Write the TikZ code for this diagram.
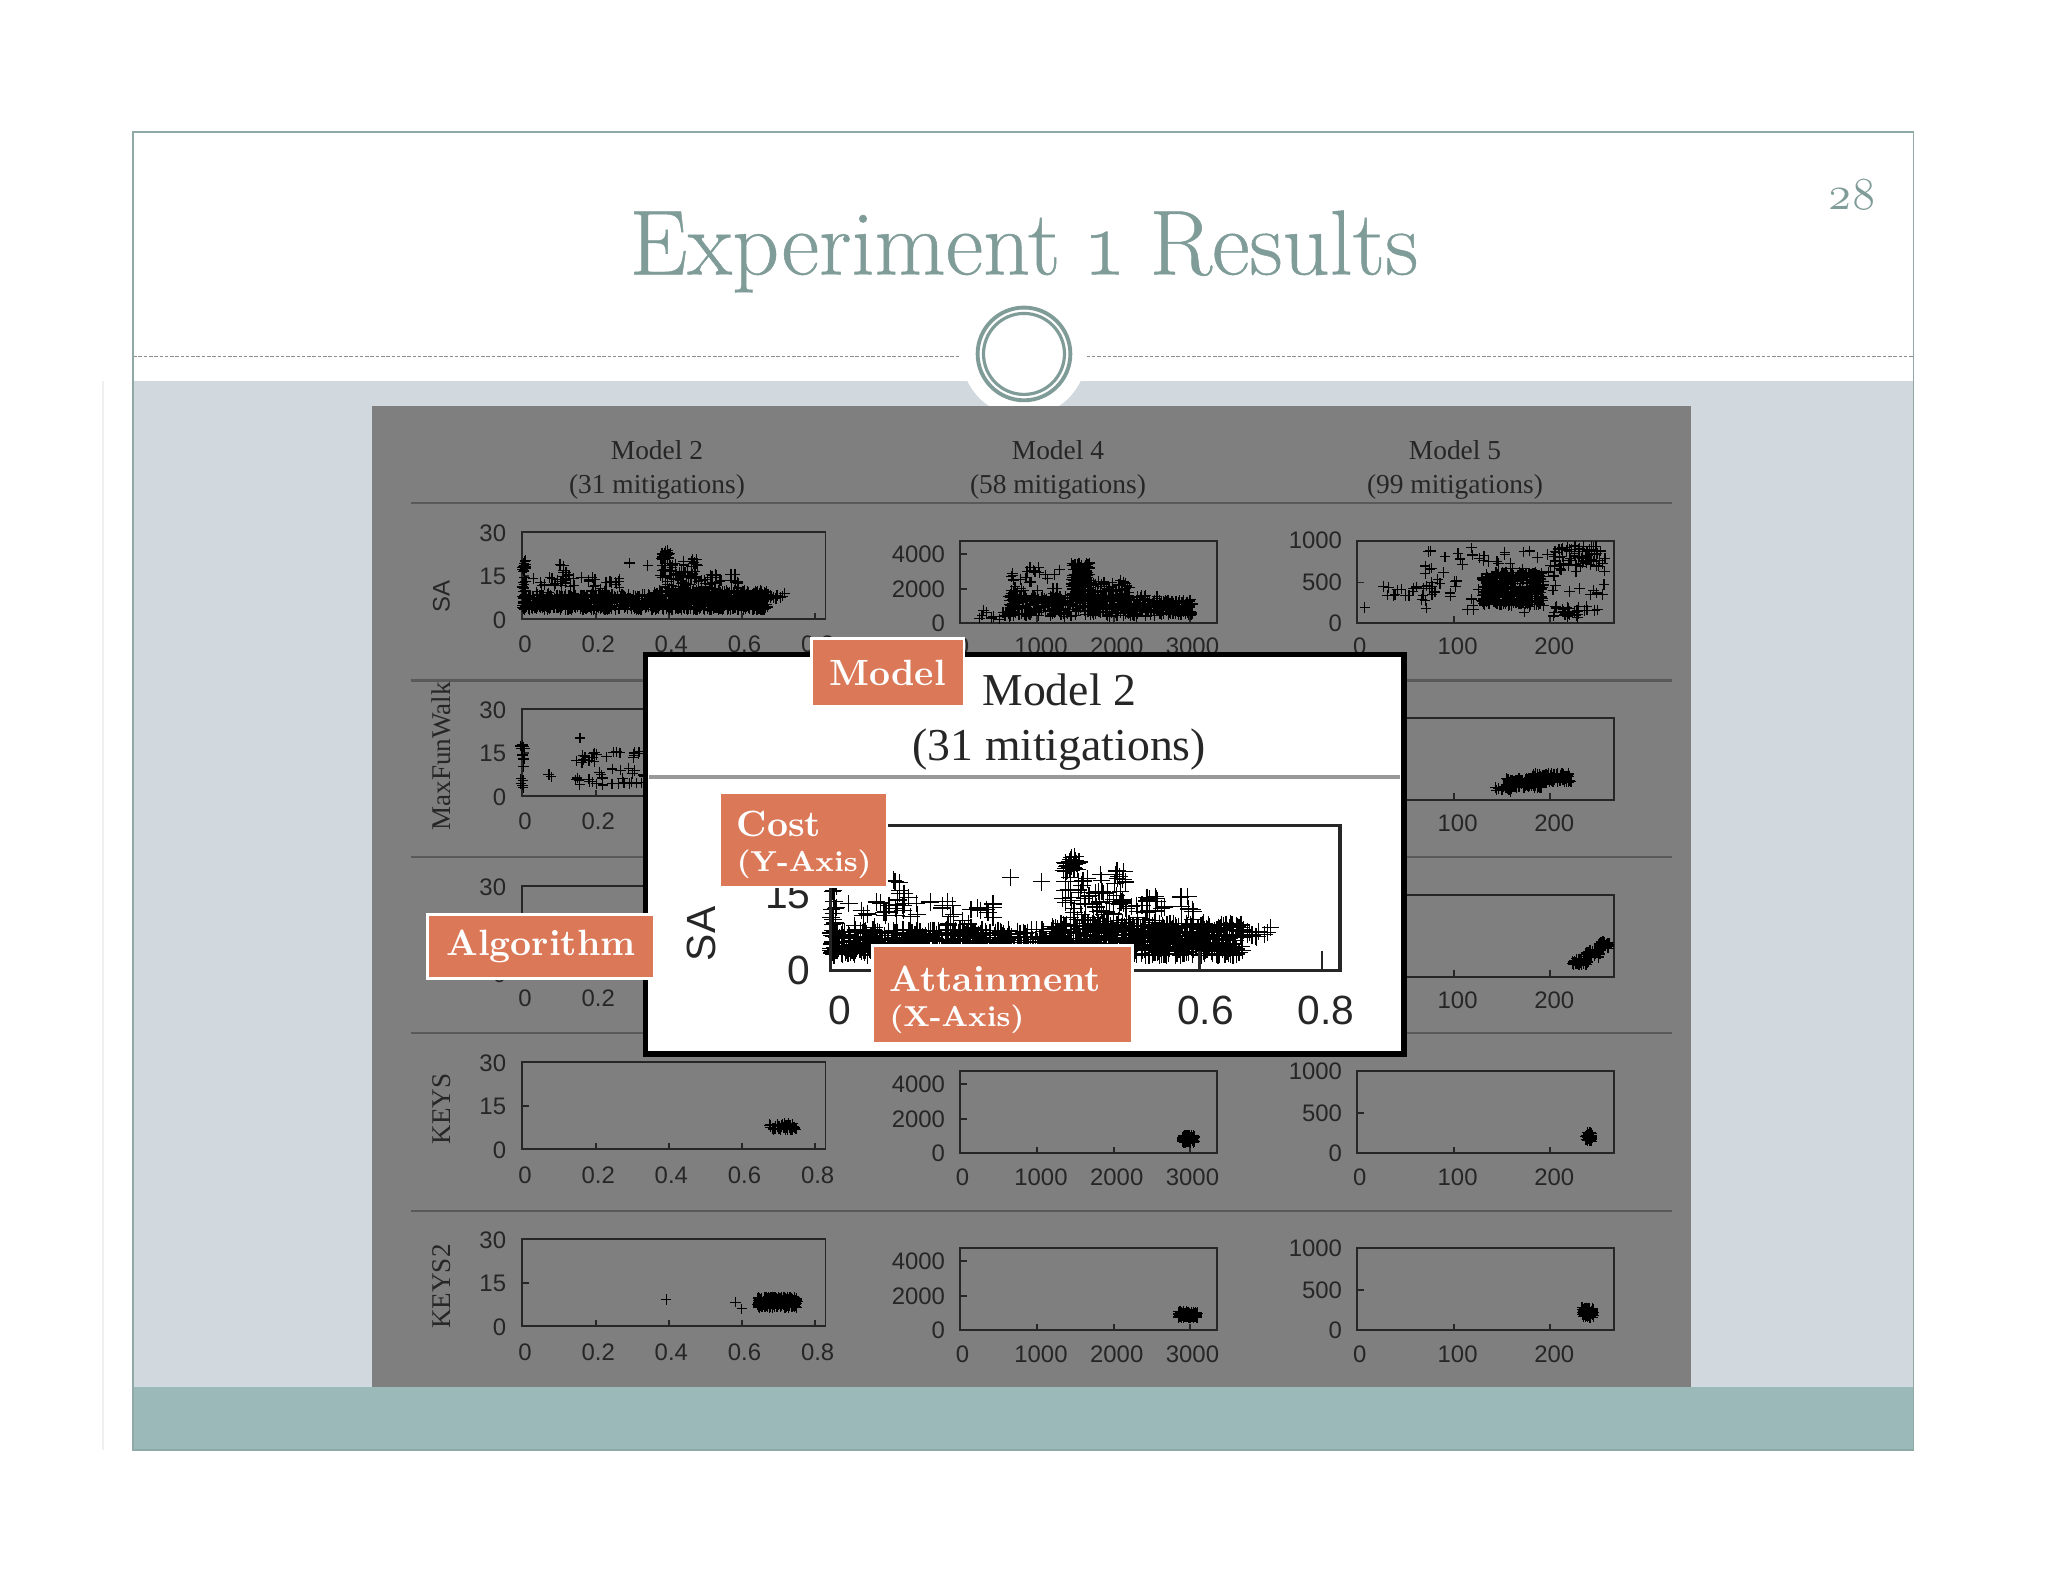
\documentclass[tikz,border=0pt]{standalone}
\usepackage{fontspec}
\newfontfamily\plotfont{Liberation Sans}
\newfontfamily\headfont{Liberation Serif}
\newfontfamily\slidefont[Numbers=OldStyle]{Latin Modern Roman}
\newfontfamily\titlefont[Numbers=OldStyle,FakeBold=0.5]{Latin Modern Roman}
\definecolor{slidegreen}{HTML}{7F9C98}
\definecolor{framegreen}{HTML}{8FAAA6}
\definecolor{bandblue}{HTML}{D1D9DE}
\definecolor{bandgreen}{HTML}{9CB9B9}
\definecolor{panelgray}{HTML}{7F7F80}
\definecolor{calloutred}{HTML}{DA7858}
\def\D{0.3716pt}
\tikzset{
  ticklabel/.style={inner sep=0pt,text=black!85,font=\plotfont\fontsize{6.8pt}{8pt}\selectfont},
  bigticklabel/.style={inner sep=0pt,text=black!85,font=\plotfont\fontsize{11.6pt}{13pt}\selectfont},
  headlabel/.style={inner sep=0pt,text=black!85,font=\headfont\fontsize{7.8pt}{9pt}\selectfont},
  bighead/.style={inner sep=0pt,text=black!85,font=\headfont\fontsize{13pt}{15pt}\selectfont},
  rowlabel/.style={inner sep=0pt,rotate=90,text=black!85,font=\headfont\fontsize{7.7pt}{9pt}\selectfont},
  plotframe/.style={draw=black!85,line width=0.55pt},
  plotmark/.style={draw=black,line width=0.33pt},
  callout/.style={anchor=north west,fill=calloutred,draw=white,line width=0.8pt,text=white,
    inner xsep=13*\D,inner ysep=0pt,align=left,font=\slidefont\bfseries\fontsize{10.4pt}{11pt}\selectfont},
}
\newcommand{\axisname}[1]{\mbox{\fontsize{8.2pt}{10pt}\selectfont #1}}
% n random plus marks inside a box: x, y, width, height, n
\newcommand{\cloud}[5]{%
  \foreach \i in {1,...,#5}{%
    \pgfmathsetmacro\cx{#1+rnd*#3}\pgfmathsetmacro\cy{#2+rnd*#4}%
    \draw[plotmark] (\cx-4,\cy) -- (\cx+4,\cy) (\cx,\cy-4) -- (\cx,\cy+4);
  }%
}
\newcommand{\scatterSA}{%
  \pgfmathsetseed{7}%
  \cloud{0}{20}{3}{40}{40}
  \cloud{0}{48}{108}{12}{520}
  \cloud{100}{45}{88}{15}{620}
  \cloud{5}{35}{70}{15}{50}
  \cloud{28}{24}{8}{14}{10}
  \cloud{82}{24}{0}{0}{1}
  \cloud{96}{26}{0}{0}{1}
  \cloud{106}{14}{8}{7}{22}
  \cloud{105}{20}{30}{25}{60}
  \cloud{130}{32}{40}{15}{40}
  \cloud{185}{47}{18}{5}{12}
}
% one column each, #1 is the row
\newcommand{\attainplot}[1]{%
  \draw[plotframe] (400,407) rectangle (632,474);
  \draw[plotframe] (400,441) -- (405,441);
  \foreach \tx in {456,512,568,624} \draw[plotframe] (\tx,474) -- (\tx,469);
  \foreach \ty/\lab [count=\k] in {408/30,441/15,475/0}
    \node[ticklabel,anchor=east] (ay#1\k) at (388,\ty) {\lab};
  \foreach \tx/\lab [count=\k] in {402/0,458/0.2,514/0.4,570/0.6,626/0.8}
    \node[ticklabel] (ax#1\k) at (\tx,493.5) {\lab};
}
\newcommand{\costplot}[1]{%
  \draw[plotframe] (735,414) rectangle (932,477);
  \foreach \ty in {424,451} \draw[plotframe] (735,\ty) -- (740,\ty);
  \foreach \tx in {794,853,911} \draw[plotframe] (\tx,477) -- (\tx,472);
  \foreach \ty/\lab [count=\k] in {424/4000,451/2000,477/0}
    \node[ticklabel,anchor=east] (by#1\k) at (724,\ty) {\lab};
  \foreach \tx/\lab [count=\k] in {737/0,797/1000,855/2000,913/3000}
    \node[ticklabel] (bx#1\k) at (\tx,495) {\lab};
}
\newcommand{\stepplot}[1]{%
  \draw[plotframe] (1039,414) rectangle (1236,477);
  \draw[plotframe] (1039,446) -- (1044,446);
  \foreach \tx in {1113,1187} \draw[plotframe] (\tx,477) -- (\tx,472);
  \foreach \ty/\lab [count=\k] in {414/1000,446/500,477/0}
    \node[ticklabel,anchor=east] (cy#1\k) at (1028,\ty) {\lab};
  \foreach \tx/\lab [count=\k] in {1041/0,1116/100,1190/200}
    \node[ticklabel] (cx#1\k) at (\tx,495) {\lab};
}
\begin{document}
\begin{tikzpicture}[x=0.013061cm,y=-0.013061cm]
  \useasboundingbox[fill=white] (0,0) rectangle (1568,1211.2);

  % slide
  \draw[black!6,line width=0.5pt] (79,292) -- (79,1110);
  \fill[bandblue] (102,292) rectangle (1465,1062);
  \fill[bandgreen] (102,1062) rectangle (1465,1110);
  \fill[white] (784,271) circle (48);
  \draw[black!45,dash pattern=on 1pt off 0.5pt,line width=0.35pt] (102,273) -- (735,273) (832,273) -- (1465,273);
  \draw[slidegreen,line width=1.1pt] (784,271) circle (35.5);
  \draw[slidegreen,line width=0.9pt] (784,271) circle (31);
  \draw[framegreen,line width=0.5pt] (102,101) rectangle (1465,1110);
  \node[inner sep=0pt,text=slidegreen,font=\titlefont\fontsize{26.2pt}{28pt}\selectfont] (title) at (784,192.5) {Experiment 1 Results};
  \node[inner sep=0pt,text=slidegreen,font=\slidefont\fontsize{13pt}{15pt}\selectfont] (pagenum) at (1418,149) {28};
  \fill[panelgray] (285,311) rectangle (1295,1062);

  % table head and rows
  \foreach \hx/\mname/\mits [count=\k] in {503/Model 2/31,810/Model 4/58,1114/Model 5/99}{
    \node[headlabel] (model\k) at (\hx,345) {\mname};
    \node[headlabel] (mits\k) at (\hx,372.5) {(\mits{} mitigations)};
  }
  \foreach \ry in {385,521,656,791,927}
    \draw[black!65,line width=0.6pt] (315,\ry) -- (1280,\ry);
  \node[ticklabel,rotate=90] (algsa) at (338,457) {SA};
  \node[rowlabel] (algwalk) at (338,579) {MaxFunWalk};
  \node[rowlabel] (algkeys) at (338,849) {KEYS};
  \node[rowlabel] (algkeystwo) at (338,985) {KEYS2};

  \foreach \rowy [count=\r] in {0,135.5,271,406,541.5}{
    \begin{scope}[shift={(0,\rowy)}]
      \attainplot{\r}
      \costplot{\r}
      \stepplot{\r}
    \end{scope}
  }

  % scatter, row by row
  \begin{scope}[shift={(400,407)}]
    \scatterSA
  \end{scope}
  \begin{scope}[shift={(735,414)}]
    \pgfmathsetseed{11}
    \cloud{37}{42}{115}{16}{420}
    \cloud{85}{17}{15}{28}{130}
    \cloud{100}{30}{30}{20}{90}
    \cloud{37}{20}{43}{25}{40}
    \cloud{12}{50}{25}{12}{10}
    \cloud{150}{45}{28}{12}{150}
  \end{scope}
  \begin{scope}[shift={(1039,414)}]
    \pgfmathsetseed{13}
    \cloud{50}{5}{140}{50}{90}
    \cloud{95}{24}{48}{26}{380}
    \cloud{150}{4}{38}{16}{60}
    \cloud{150}{50}{20}{9}{25}
    \cloud{20}{35}{40}{10}{16}
    \cloud{6}{51}{0}{0}{1}
  \end{scope}
  \begin{scope}[shift={(400,543)}]
    \pgfmathsetseed{17}
    \cloud{-2}{25}{4}{37}{14}
    \cloud{44}{22}{0}{0}{1}
    \cloud{20}{50}{3}{3}{3}
    \cloud{40}{32}{54}{26}{50}
  \end{scope}
  \begin{scope}[shift={(1039,549)}]
    \pgfmathsetseed{19}
    \cloud{105}{52}{14}{5}{16}
    \cloud{114}{47}{28}{7}{120}
    \cloud{134}{43}{30}{7}{120}
  \end{scope}
  \begin{scope}[shift={(1039,684)}]
    \pgfmathsetseed{23}
    \cloud{165}{50}{12}{5}{40}
    \cloud{175}{43}{12}{6}{40}
    \cloud{185}{36}{8}{6}{40}
  \end{scope}
  \begin{scope}[shift={(400,813)}]
    \pgfmathsetseed{29}
    \cloud{189}{47}{21}{5}{40}
  \end{scope}
  \begin{scope}[shift={(735,820)}]
    \pgfmathsetseed{31}
    \cloud{170}{49}{10}{6}{100}
  \end{scope}
  \begin{scope}[shift={(1039,820)}]
    \pgfmathsetseed{37}
    \cloud{175}{47}{5}{7}{60}
  \end{scope}
  \begin{scope}[shift={(400,949)}]
    \pgfmathsetseed{41}
    \cloud{110}{46}{0}{0}{1}
    \cloud{163}{48}{0}{0}{1}
    \cloud{168}{53}{0}{0}{1}
    \cloud{180}{44}{31}{8}{260}
  \end{scope}
  \begin{scope}[shift={(735,955)}]
    \pgfmathsetseed{43}
    \cloud{167}{49}{15}{5}{110}
  \end{scope}
  \begin{scope}[shift={(1039,955)}]
    \pgfmathsetseed{47}
    \cloud{172}{46}{9}{8}{90}
  \end{scope}

  % enlarged plot
  \draw[black,fill=white,line width=1.5pt] (494,501) rectangle (1075,807);
  \node[bighead] (zoommodel) at (811,528) {Model 2};
  \node[bighead] (zoommits) at (811,574) {(31 mitigations)};
  \draw[black!40,line width=1.1pt] (497,595) -- (1072,595);
  \begin{scope}[shift={(636,632)},xscale=1.68,yscale=1.66]
    \scatterSA
    \draw[draw=black!85,line width=1pt] (0,0) rectangle (232,67);
    \foreach \tx in {56,112,168,224} \draw[draw=black!85,line width=0.7pt] (\tx,67) -- (\tx,58);
  \end{scope}
  \node[bigticklabel,rotate=90] (zoomsa) at (537,715) {SA};
  \foreach \ty/\lab [count=\k] in {632/30,685/15,743/0}
    \node[bigticklabel,anchor=east] (zoomy\k) at (621,\ty) {\lab};
  \foreach \tx/\lab [count=\k] in {643/0,736/0.2,830/0.4,923/0.6,1015/0.8}
    \node[bigticklabel] (zoomx\k) at (\tx,774) {\lab};

  % callouts
  \node[callout,minimum width=117*\D,minimum height=52*\D] (calmodel) at (620,488) {Model};
  \node[callout,minimum width=128*\D,minimum height=72*\D,text width=102*\D] (calcost) at (550,606) {\rule{0pt}{10.2pt}Cost\\[-1pt]\axisname{(Y-Axis)}};
  \node[callout,minimum width=174*\D,minimum height=49*\D] (calalg) at (326,699) {Algorithm};
  \node[callout,minimum width=199*\D,minimum height=75*\D,text width=173*\D] (calatt) at (667,723) {\rule{0pt}{10.2pt}Attainment\\[-1pt]\axisname{(X-Axis)}};
\end{tikzpicture}
\end{document}
